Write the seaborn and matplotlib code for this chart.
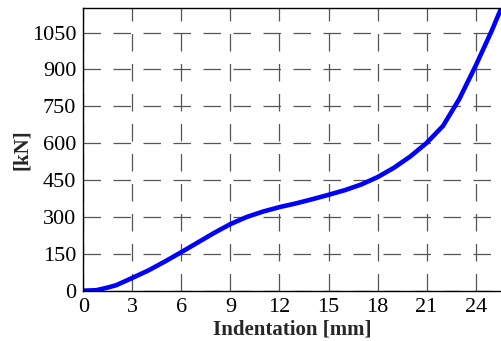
import matplotlib
matplotlib.use("Agg")
import matplotlib.pyplot as plt
import seaborn as sns
import pandas as pd

indentation = [0, 0.8, 1.5, 2, 3, 4, 5, 6, 7, 8, 9, 10, 11, 12, 13, 14, 15, 16, 17, 18, 19, 20, 21, 22, 23, 24, 25, 25.6]
force = [0, 2, 13, 22, 52, 83, 119, 157, 196, 235, 271, 300, 322, 340, 355, 372, 390, 409, 432, 462, 500, 546, 601, 670, 780, 915, 1060, 1155]
xticks = [0, 3, 6, 9, 12, 15, 18, 21, 24]
yticks = [0, 150, 300, 450, 600, 750, 900, 1050]

df = pd.DataFrame({"x": indentation, "y": force})

sns.set_style("white")
plt.rcParams["font.family"] = ["Liberation Serif", "DejaVu Serif"]

fig = plt.figure(figsize=(5.01, 3.41), dpi=100)
ax = fig.add_axes([83.3 / 501, 50.3 / 341, (501 - 83.3) / 501, (290.7 - 8) / 341])

sns.lineplot(data=df, x="x", y="y", ax=ax, color="#0000ff", linewidth=3.3)

ax.set_xlim(0, 25.55)
ax.set_ylim(0, 1150)
ax.set_xticks(xticks)
ax.set_yticks(yticks)
ax.grid(True, color="#555555", linestyle=(0, (14, 10)), linewidth=0.9)
ax.tick_params(direction="in", length=5, width=0.9, colors="black", labelsize=16, pad=5)
for side in ["left", "bottom", "top"]:
    ax.spines[side].set_color("black")
    ax.spines[side].set_linewidth(1.0)
ax.spines["right"].set_visible(False)

ax.set_xlabel("Indentation [mm]", fontsize=15, fontweight="bold", labelpad=2)
ax.set_ylabel("[kN]", fontsize=15, fontweight="bold", labelpad=0)

fig.savefig("out.png", dpi=100)
